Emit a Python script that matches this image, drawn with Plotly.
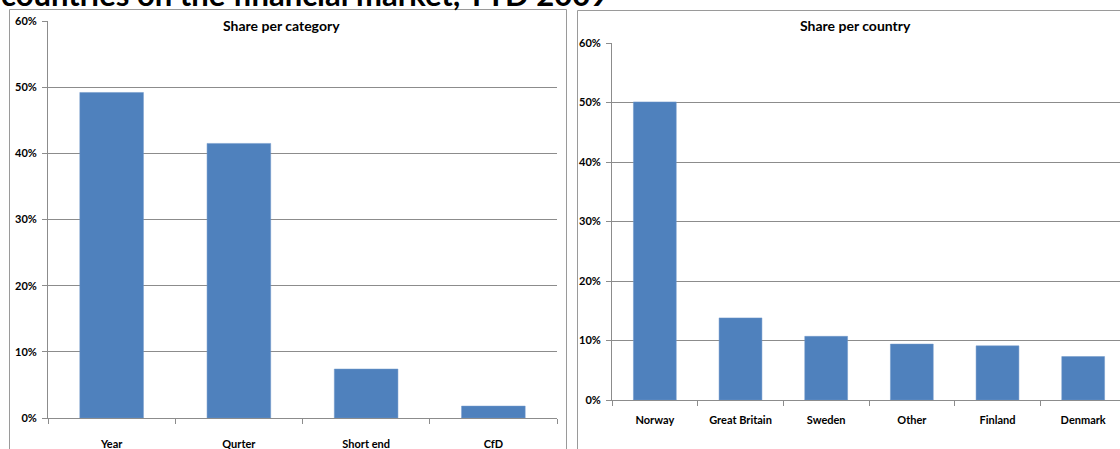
import plotly.graph_objects as go

W, H = 1120, 449

cat_labels = ["Year", "Qurter", "Short end", "CfD"]
cat_values = [0.492, 0.415, 0.074, 0.018]

country_labels = ["Norway", "Great Britain", "Sweden", "Other", "Finland", "Denmark"]
country_values = [0.501, 0.138, 0.107, 0.094, 0.091, 0.073]

y_ticks = [0, 0.1, 0.2, 0.3, 0.4, 0.5, 0.6]
y_ticktext = ["0%", "10%", "20%", "30%", "40%", "50%", "60%"]

main_title = "countries on the financial market, YTD 2009"
left_title = "Share per category"
right_title = "Share per country"

BAR = "#4F81BD"
GRID = "#8c8c8c"
FONT = "Lato"


def px(x):
    return x / W


def py(y):
    return 1 - y / H


fig = go.Figure()
fig.add_trace(go.Bar(x=cat_labels, y=cat_values, marker=dict(color=BAR, line=dict(color="#6f97c9", width=0.5)),
                     width=0.5, xaxis="x", yaxis="y", showlegend=False))
fig.add_trace(go.Bar(x=country_labels, y=country_values, marker=dict(color=BAR, line=dict(color="#6f97c9", width=0.5)),
                     width=0.5, xaxis="x2", yaxis="y2", showlegend=False))

tickfont = dict(family=FONT, size=11, color="black", weight="bold")

common_x = dict(type="category", tickson="boundaries", ticks="outside", ticklen=5, tickcolor=GRID,
                showline=True, linecolor=GRID, linewidth=1, showgrid=False, tickfont=tickfont,
                fixedrange=True, automargin=False)
common_y = dict(range=[0, 0.6], tickvals=y_ticks, ticktext=y_ticktext, ticks="outside", ticklen=5,
                tickcolor=GRID, showline=True, linecolor=GRID, linewidth=1, showgrid=True,
                gridcolor=GRID, gridwidth=1, tickfont=tickfont, zeroline=False, fixedrange=True,
                automargin=False)

fig.update_layout(
    width=W, height=H,
    margin=dict(l=0, r=0, t=0, b=0, autoexpand=False),
    paper_bgcolor="white", plot_bgcolor="white",
    bargap=0.5,
    xaxis=dict(domain=[px(48), px(557)], anchor="y", range=[-0.5, 3.5], ticklabelstandoff=16, **common_x),
    yaxis=dict(domain=[py(418), py(21)], anchor="x", ticklabelstandoff=3, **common_y),
    xaxis2=dict(domain=[px(612), 1], anchor="y2", range=[-0.5, 5.43], ticklabelstandoff=10, **common_x),
    yaxis2=dict(domain=[py(400), py(43)], anchor="x2", ticklabelstandoff=3, **common_y),
)

shapes = [
    dict(type="rect", xref="paper", yref="paper", x0=px(9.5), x1=px(566.5), y0=py(470), y1=py(9.5),
         line=dict(color="#9a9a9a", width=1), layer="below"),
    dict(type="rect", xref="paper", yref="paper", x0=px(577.5), x1=px(1140), y0=py(470), y1=py(10.5),
         line=dict(color="#9a9a9a", width=1), layer="below"),
]
fig.update_layout(shapes=shapes)

annotations = [
    dict(text=main_title, xref="paper", yref="paper", x=px(-1), y=py(15), xanchor="left", yanchor="bottom",
         showarrow=False, font=dict(family=FONT, size=31, color="black", weight="bold")),
    dict(text=left_title, xref="paper", yref="paper", x=px(281), y=py(25), xanchor="center", yanchor="middle",
         showarrow=False, font=dict(family=FONT, size=14, color="black", weight="bold")),
    dict(text=right_title, xref="paper", yref="paper", x=px(855), y=py(26), xanchor="center", yanchor="middle",
         showarrow=False, font=dict(family=FONT, size=14, color="black", weight="bold")),
]
fig.update_layout(annotations=annotations)

fig.write_html("out.html", config=dict(displayModeBar=False))
